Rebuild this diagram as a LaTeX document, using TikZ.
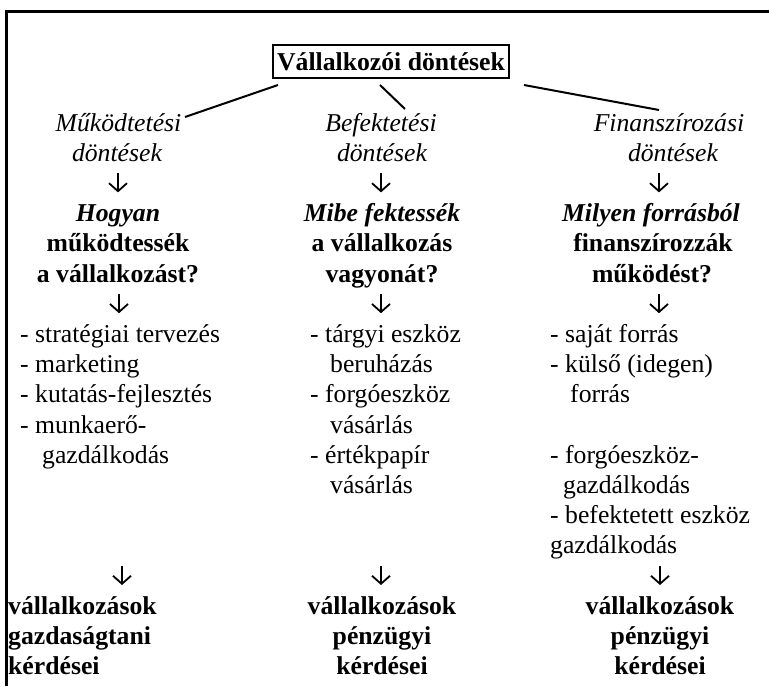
\documentclass[tikz,border=0pt]{standalone}
\usepackage{fontspec}
\setmainfont{Liberation Serif}
\usetikzlibrary{arrows.meta}
\newcommand\fs{\fontsize{25.7pt}{30pt}\selectfont}
% a short downward arrow: name, x, row
\newcommand\darrow[3]{%
  \coordinate (#1s) at (#2,{row(#3)-18});
  \coordinate (#1e) at (#2,{row(#3)+1});
  \draw[downarr] (#1s) -- (#1e);}
\begin{document}
\begin{tikzpicture}[x=1pt,y=-1pt,
  declare function={row(\i)=131+30.2*\i;},
  txt/.style={anchor=base,inner sep=0pt,font=\fs},
  itx/.style={txt,font=\fs\itshape},
  bfx/.style={txt,font=\fs\bfseries},
  bix/.style={txt,font=\fs\bfseries\itshape},
  lst/.style={txt,anchor=base west},
  bfl/.style={bfx,anchor=base west},
  downarr/.style={line width=1.8pt,-{Straight Barb[length=8pt,width=18pt,line width=1.8pt]}},
  link/.style={line width=2pt},
  titlebox/.style={draw,line width=2pt,font=\fs\bfseries,minimum width=236.6pt,
    text height=20.7pt,text depth=3.3pt,inner ysep=4.3pt,inner xsep=0pt}]
\useasboundingbox (0,0) rectangle (769,686);
% outer frame (top and left edges)
\draw[line width=3pt] (6.5,686) -- (6.5,11.5) -- (769,11.5);

% root
\node[titlebox] (title) at (391,61.3) {Vállalkozói döntések};
\coordinate (l1a) at (278,85);  \coordinate (l1b) at (185,117);
\coordinate (l2a) at (380,85);  \coordinate (l2b) at (405,109);
\coordinate (l3a) at (524,85);  \coordinate (l3b) at (659,110);
\draw[link] (l1a) -- (l1b);
\draw[link] (l2a) -- (l2b);
\draw[link] (l3a) -- (l3b);

% ---- column 1: operations
\node[itx] (c1h1) at (118.5,{row(0)}) {Működtetési};
\node[itx] (c1h2) at (117,{row(1)}) {döntések};
\darrow{c1a}{118}{2}
\node[bix] (c1q1) at (118,{row(3)}) {Hogyan};
\node[bfx] (c1q2) at (118,{row(4)}) {működtessék};
\node[bfx] (c1q3) at (118,{row(5)}) {a vállalkozást?};
\darrow{c1b}{119}{6}
\node[lst] (c1l1) at (20,{row(7)}) {- stratégiai tervezés};
\node[lst] (c1l2) at (20,{row(8)}) {- marketing};
\node[lst] (c1l3) at (20,{row(9)}) {- kutatás-fejlesztés};
\node[lst] (c1l4) at (20,{row(10)}) {- munkaerő-};
\node[lst] (c1l5) at (42,{row(11)}) {gazdálkodás};
\darrow{c1c}{122}{15}
\node[bfl] (c1r1) at (8,{row(16)}) {vállalkozások};
\node[bfl] (c1r2) at (8,{row(17)}) {gazdaságtani};
\node[bfl] (c1r3) at (8,{row(18)}) {kérdései};

% ---- column 2: investment
\node[itx] (c2h1) at (381,{row(0)}) {Befektetési};
\node[itx] (c2h2) at (382,{row(1)}) {döntések};
\darrow{c2a}{381}{2}
\node[bix] (c2q1) at (382,{row(3)}) {Mibe fektessék};
\node[bfx] (c2q2) at (382,{row(4)}) {a vállalkozás};
\node[bfx] (c2q3) at (382,{row(5)}) {vagyonát?};
\darrow{c2b}{381}{6}
\node[lst] (c2l1) at (310,{row(7)}) {- tárgyi eszköz};
\node[lst] (c2l2) at (330,{row(8)}) {beruházás};
\node[lst] (c2l3) at (310,{row(9)}) {- forgóeszköz};
\node[lst] (c2l4) at (330,{row(10)}) {vásárlás};
\node[lst] (c2l5) at (310,{row(11)}) {- értékpapír};
\node[lst] (c2l6) at (330,{row(12)}) {vásárlás};
\darrow{c2c}{381}{15}
\node[bfx] (c2r1) at (382,{row(16)}) {vállalkozások};
\node[bfx] (c2r2) at (382,{row(17)}) {pénzügyi};
\node[bfx] (c2r3) at (382,{row(18)}) {kérdései};

% ---- column 3: financing
\node[itx] (c3h1) at (669,{row(0)}) {Finanszírozási};
\node[itx] (c3h2) at (673,{row(1)}) {döntések};
\darrow{c3a}{659}{2}
\node[bix] (c3q1) at (651,{row(3)}) {Milyen forrásból};
\node[bfx] (c3q2) at (653,{row(4)}) {finanszírozzák};
\node[bfx] (c3q3) at (652,{row(5)}) {működést?};
\darrow{c3b}{659}{6}
\node[lst] (c3l1) at (550,{row(7)}) {- saját forrás};
\node[lst] (c3l2) at (550,{row(8)}) {- külső (idegen)};
\node[lst] (c3l3) at (570,{row(9)}) {forrás};
\node[lst] (c3l4) at (550,{row(11)}) {- forgóeszköz-};
\node[lst] (c3l5) at (563,{row(12)}) {gazdálkodás};
\node[lst] (c3l6) at (550,{row(13)}) {- befektetett eszköz};
\node[lst] (c3l7) at (550,{row(14)}) {gazdálkodás};
\darrow{c3c}{660}{15}
\node[bfx] (c3r1) at (660,{row(16)}) {vállalkozások};
\node[bfx] (c3r2) at (660,{row(17)}) {pénzügyi};
\node[bfx] (c3r3) at (660,{row(18)}) {kérdései};
\end{tikzpicture}
\end{document}
